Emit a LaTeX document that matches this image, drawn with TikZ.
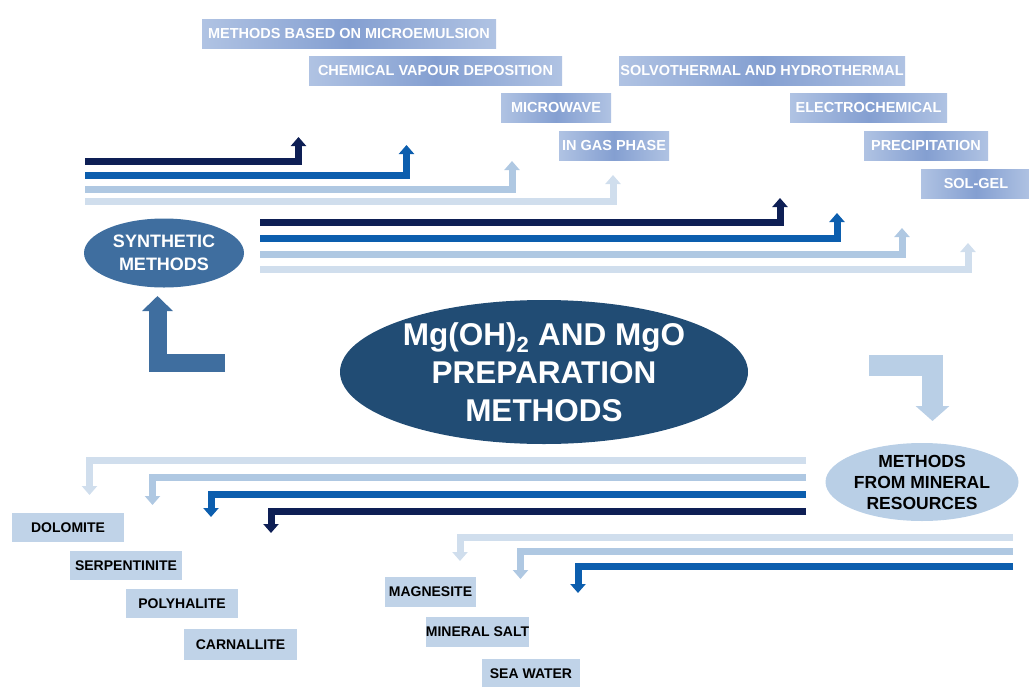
\documentclass[tikz,border=0pt]{standalone}
\usepackage{fontspec}
\setmainfont{Liberation Sans}
\usetikzlibrary{arrows.meta,shapes.geometric}

\definecolor{navy}{HTML}{0E1F55}
\definecolor{midblue}{HTML}{0C5EAE}
\definecolor{paleblue}{HTML}{AFC8E2}
\definecolor{mistblue}{HTML}{D0DEED}
\definecolor{steel}{HTML}{3F6E9F}
\definecolor{deepblue}{HTML}{214C74}
\definecolor{skyblue}{HTML}{B9CFE6}
\definecolor{boxblue}{HTML}{849FD1}
\definecolor{boxlight}{HTML}{B0C3E3}
\definecolor{mineral}{HTML}{C0D3E8}

\begin{document}
\begin{tikzpicture}[x=1pt, y=-1pt,
    method/.style={rectangle, left color=boxlight, right color=boxlight, middle color=boxblue,
      text=white, font=\bfseries\fontsize{14.5}{17}\selectfont, minimum height=29pt, inner sep=0pt},
    ore/.style={rectangle, fill=mineral, text=black,
      font=\bfseries\fontsize{14}{17}\selectfont, minimum height=29pt, inner sep=0pt},
    bar/.style={line width=7pt, -{Triangle[width=15pt,length=9pt]}},
    bigarrow/.style={line width=18pt, -{Triangle[width=30pt,length=15pt]}}]
  \useasboundingbox (0,0) rectangle (1029,686);

  % ellipses
  \node[ellipse, fill=deepblue, text=white, minimum width=408pt, minimum height=144pt, inner sep=0pt,
    align=center, font=\bfseries\fontsize{31.5}{38}\selectfont] (main) at (544,372)
    {Mg(OH)\textsubscript{2} AND MgO\\PREPARATION\\METHODS};
  \node[ellipse, fill=steel, text=white, minimum width=160pt, minimum height=69pt, inner sep=0pt,
    align=center, font=\bfseries\fontsize{18}{23}\selectfont] (synth) at (164,253)
    {SYNTHETIC\\METHODS};
  \node[ellipse, fill=skyblue, text=black, minimum width=193pt, minimum height=78pt, inner sep=0pt,
    align=center, font=\bfseries\fontsize{17.5}{21}\selectfont] (mineral) at (922,482)
    {METHODS\\FROM MINERAL\\RESOURCES};

  % synthetic methods
  \node[method, minimum width=294pt] (micro) at (349,34) {METHODS BASED ON MICROEMULSION};
  \node[method, minimum width=253pt] (cvd) at (435.5,71) {CHEMICAL VAPOUR DEPOSITION};
  \node[method, minimum width=110pt] (wave) at (556,107.5) {MICROWAVE};
  \node[method, minimum width=110pt] (gas) at (614,145.5) {IN GAS PHASE};
  \node[method, minimum width=286pt] (solvo) at (762,71) {SOLVOTHERMAL AND HYDROTHERMAL};
  \node[method, minimum width=157pt] (electro) at (868.5,107.5) {ELECTROCHEMICAL};
  \node[method, minimum width=124pt] (precip) at (926,145.5) {PRECIPITATION};
  \node[method, minimum width=110pt] (solgel) at (976,183.5) {SOL-GEL};

  % mineral resources
  \node[ore, minimum width=112pt] (dolo) at (68,527.5) {DOLOMITE};
  \node[ore, minimum width=112pt] (serp) at (126,565.5) {SERPENTINITE};
  \node[ore, minimum width=112pt] (poly) at (182,603.5) {POLYHALITE};
  \node[ore, minimum width=113pt, minimum height=31pt] (carn) at (240.5,644.5) {CARNALLITE};
  \node[ore, minimum width=91pt, minimum height=30pt] (magn) at (430.5,592) {MAGNESITE};
  \node[ore, minimum width=101pt, minimum height=30pt] (salt) at (477.5,632) {MINERAL SALT};
  \node[ore, minimum width=98pt] (sea) at (531,673.5) {SEA WATER};

  % bar ends
  \coordinate (a1) at (85,161.5);  \coordinate (a1t) at (298.5,137);
  \coordinate (a2) at (85,175.5);  \coordinate (a2t) at (406.5,145);
  \coordinate (a3) at (85,189);    \coordinate (a3t) at (512,161);
  \coordinate (a4) at (85,201.5);  \coordinate (a4t) at (613,175);
  \coordinate (b1) at (260,222.5); \coordinate (b1t) at (780,198);
  \coordinate (b2) at (260,238.5); \coordinate (b2t) at (837,213);
  \coordinate (b3) at (260,254);   \coordinate (b3t) at (902,228);
  \coordinate (b4) at (260,269);   \coordinate (b4t) at (968,243);
  \coordinate (c1) at (806,460.5); \coordinate (c1t) at (89.5,495);
  \coordinate (c2) at (806,477);   \coordinate (c2t) at (152.5,505);
  \coordinate (c3) at (806,494.5); \coordinate (c3t) at (211,517);
  \coordinate (c4) at (806,511.5); \coordinate (c4t) at (271,533);
  \coordinate (d1) at (1013,537);  \coordinate (d1t) at (460,561);
  \coordinate (d2) at (1013,551);  \coordinate (d2t) at (520.5,579);
  \coordinate (d3) at (1013,566);  \coordinate (d3t) at (578,593);

  \draw[bar, navy] (a1) -| (a1t);
  \draw[bar, midblue] (a2) -| (a2t);
  \draw[bar, paleblue] (a3) -| (a3t);
  \draw[bar, mistblue] (a4) -| (a4t);
  \draw[bar, navy] (b1) -| (b1t);
  \draw[bar, midblue] (b2) -| (b2t);
  \draw[bar, paleblue] (b3) -| (b3t);
  \draw[bar, mistblue] (b4) -| (b4t);
  \draw[bar, mistblue] (c1) -| (c1t);
  \draw[bar, paleblue] (c2) -| (c2t);
  \draw[bar, midblue] (c3) -| (c3t);
  \draw[bar, navy] (c4) -| (c4t);
  \draw[bar, mistblue] (d1) -| (d1t);
  \draw[bar, paleblue] (d2) -| (d2t);
  \draw[bar, midblue] (d3) -| (d3t);

  % big turning arrows
  \coordinate (l1) at (225,363);   \coordinate (l1t) at (157.5,296);
  \coordinate (r1) at (869,365.5); \coordinate (r1t) at (932.5,421);
  \draw[bigarrow, steel] (l1) -| (l1t);
  \draw[bigarrow, line width=21pt, skyblue, -{Triangle[width=33pt,length=15pt]}] (r1) -| (r1t);
\end{tikzpicture}
\end{document}
